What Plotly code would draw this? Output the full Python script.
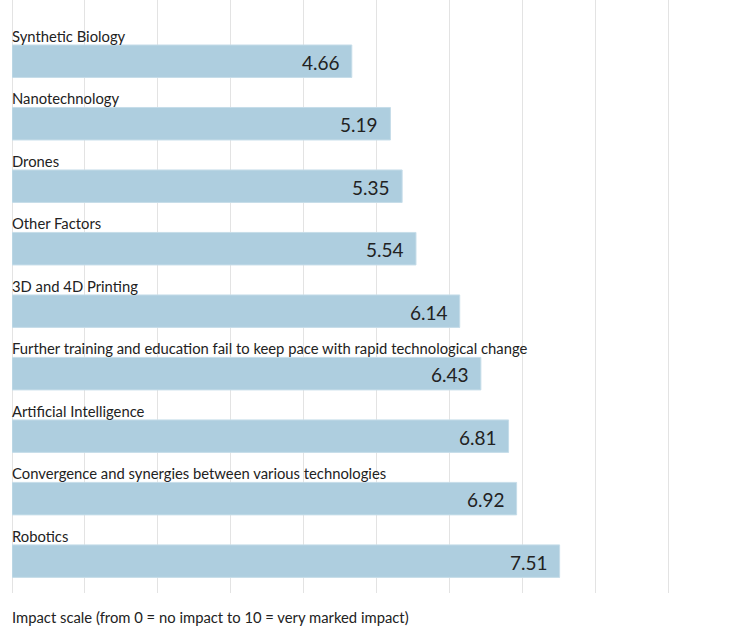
import plotly.graph_objects as go

categories = [
    "Synthetic Biology",
    "Nanotechnology",
    "Drones",
    "Other Factors",
    "3D and 4D Printing",
    "Further training and education fail to keep pace with rapid technological change",
    "Artificial Intelligence",
    "Convergence and synergies between various technologies",
    "Robotics",
]
values = [4.66, 5.19, 5.35, 5.54, 6.14, 6.43, 6.81, 6.92, 7.51]
value_labels = ["4.66", "5.19", "5.35", "5.54", "6.14", "6.43", "6.81", "6.92", "7.51"]
axis_note = "Impact scale (from 0 = no impact to 10 = very marked impact)"

BAR_COLOR = "#aecedf"
TEXT_COLOR = "#222222"
GRID_COLOR = "#e3e3e3"
FONT = "Lato, 'Open Sans', sans-serif"

ypos = list(range(len(categories)))

fig = go.Figure()
fig.add_trace(go.Bar(
    x=values,
    y=ypos,
    orientation="h",
    width=0.52,
    marker=dict(color=BAR_COLOR, line=dict(color="#c6dde9", width=1)),
    hoverinfo="skip",
))

annotations = []
for i, (cat, v, lab) in enumerate(zip(categories, values, value_labels)):
    annotations.append(dict(
        x=0, y=i - 0.41, xref="x", yref="y", text=cat, showarrow=False,
        xanchor="left", yanchor="middle", xshift=-2,
        font=dict(family=FONT, size=14.8, color=TEXT_COLOR),
    ))
    annotations.append(dict(
        x=v, y=i, xref="x", yref="y", text=lab, showarrow=False,
        xanchor="right", yanchor="middle", xshift=-10, yshift=-1,
        font=dict(family=FONT, size=19, color=TEXT_COLOR),
    ))
annotations.append(dict(
    x=0, y=0, xref="x", yref="paper", text=axis_note, showarrow=False,
    xanchor="left", yanchor="middle", yshift=-24, xshift=-2,
    font=dict(family=FONT, size=14.8, color=TEXT_COLOR),
))

fig.update_layout(
    width=731, height=627,
    margin=dict(l=12, r=0, t=0, b=34),
    paper_bgcolor="white", plot_bgcolor="white",
    showlegend=False,
    font=dict(family=FONT, color=TEXT_COLOR),
    annotations=annotations,
    xaxis=dict(
        range=[0, 9.86], dtick=1, tick0=0, showgrid=True, gridcolor=GRID_COLOR,
        gridwidth=1, zeroline=True, zerolinecolor=GRID_COLOR, zerolinewidth=1,
        showticklabels=False, ticks="", showline=False, fixedrange=True,
    ),
    yaxis=dict(
        range=[8.51, -0.98], showgrid=False, zeroline=False,
        showticklabels=False, ticks="", showline=False, fixedrange=True,
    ),
)

fig.write_html(
    "out.html",
    config={"displayModeBar": False},
    post_script="document.body.style.margin='0px';",
)
